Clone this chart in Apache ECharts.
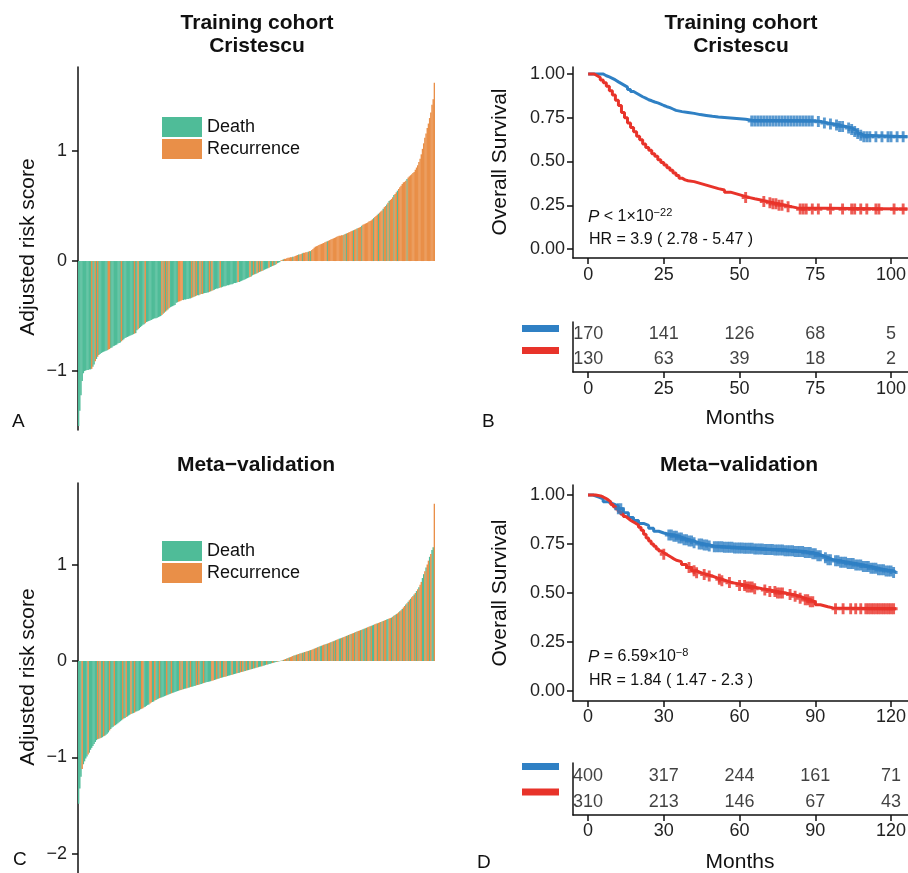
<!DOCTYPE html>
<html><head><meta charset="utf-8">
<script src="https://cdn.jsdelivr.net/npm/echarts@6/dist/echarts.min.js"></script>
<style>html,body{margin:0;padding:0;background:#fff}#c{width:908px;height:873px}</style>
</head><body><div id="c"></div>
<script>
// ---------- Panel A : Training cohort (Cristescu) adjusted risk scores, sorted ----------
const riskA = [
 -1.50,-1.36,-1.22,-1.09,-1.02,-1.00,-0.995,-0.99,-0.99,-0.985,
 -0.985,-0.98,-0.96,-0.94,-0.91,-0.89,-0.87,-0.855,-0.845,-0.835,
 -0.83,-0.825,-0.82,-0.815,-0.81,-0.805,-0.80,-0.79,-0.785,-0.775,
 -0.77,-0.765,-0.76,-0.75,-0.745,-0.74,-0.73,-0.72,-0.71,-0.70,
 -0.695,-0.69,-0.685,-0.68,-0.675,-0.67,-0.665,-0.66,-0.655,-0.63,
 -0.62,-0.61,-0.60,-0.59,-0.58,-0.575,-0.565,-0.555,-0.55,-0.545,
 -0.54,-0.535,-0.53,-0.525,-0.52,-0.52,-0.515,-0.51,-0.505,-0.50,
 -0.49,-0.48,-0.47,-0.46,-0.45,-0.44,-0.43,-0.42,-0.415,-0.41,
 -0.405,-0.40,-0.38,-0.375,-0.37,-0.365,-0.36,-0.355,-0.355,-0.35,
 -0.35,-0.345,-0.345,-0.34,-0.34,-0.335,-0.33,-0.325,-0.32,-0.315,
 -0.31,-0.31,-0.305,-0.30,-0.30,-0.295,-0.29,-0.29,-0.285,-0.285,
 -0.28,-0.275,-0.27,-0.265,-0.26,-0.255,-0.25,-0.25,-0.245,-0.24,
 -0.24,-0.235,-0.23,-0.23,-0.225,-0.22,-0.22,-0.215,-0.21,-0.21,
 -0.205,-0.20,-0.20,-0.195,-0.19,-0.19,-0.185,-0.18,-0.175,-0.17,
 -0.165,-0.16,-0.155,-0.15,-0.145,-0.14,-0.13,-0.125,-0.12,-0.115,
 -0.11,-0.105,-0.10,-0.095,-0.09,-0.085,-0.08,-0.075,-0.07,-0.065,
 -0.06,-0.055,-0.05,-0.045,-0.04,-0.035,-0.03,-0.02,-0.015,-0.01,
 0.005,0.01,0.015,0.02,0.02,0.025,0.03,0.03,0.035,0.035,
 0.04,0.04,0.045,0.05,0.055,0.06,0.06,0.065,0.07,0.075,
 0.075,0.08,0.08,0.085,0.09,0.09,0.10,0.11,0.12,0.13,
 0.135,0.14,0.145,0.15,0.155,0.16,0.165,0.17,0.175,0.18,
 0.185,0.19,0.195,0.20,0.205,0.21,0.215,0.22,0.225,0.23,
 0.23,0.235,0.235,0.24,0.245,0.25,0.255,0.26,0.265,0.27,
 0.275,0.28,0.285,0.29,0.295,0.30,0.305,0.31,0.32,0.33,
 0.335,0.34,0.345,0.35,0.36,0.365,0.37,0.38,0.39,0.40,
 0.41,0.42,0.43,0.44,0.45,0.46,0.475,0.49,0.50,0.515,
 0.53,0.545,0.555,0.565,0.58,0.60,0.61,0.625,0.64,0.655,
 0.67,0.685,0.70,0.715,0.72,0.73,0.745,0.76,0.77,0.78,
 0.79,0.80,0.81,0.83,0.85,0.87,0.90,0.93,0.97,1.02,
 1.07,1.12,1.16,1.21,1.25,1.30,1.35,1.42,1.47,1.62
];
// D = Death, R = Recurrence (one letter per bar)
const typeA = (
 "DDDDDDDDDD DRDDRDRDDD DDDDDRRDDD DDDDDDRDDD DDDDDDDRDD RDDDDDRDDD DDDDDDDDDD RDRDRDRDDD DDDDRRRRDD DDDDDRDRDR " +
 "DDRDRDDDDD RDRDDDDDDR DDDDDDDDDD DDDDRDDDDD DDDDRDDRDD RDRDRDDDDD RDDRDDRDDD RRDRRRRRRR DRRRRDRRDR RRRDRDRRRR " +
 "RRRRRRRRRD RRRRRRRRRR RRRDRDRRRR RDRRDRRRDR RRRRRRRRDR RRDRRRDRRD RDRRRDRRDR RRRRRRDRRR RRRRRRRRRR RRRRRRRRRR"
).replace(/\s/g, "");

// ---------- Panel C : Meta-validation adjusted risk scores, sorted ----------
const riskC = [
 -1.48,-1.32,-1.20,-1.12,-1.07,-1.04,-1.01,-0.99,-0.97,-0.95,
 -0.92,-0.90,-0.88,-0.86,-0.84,-0.82,-0.81,-0.805,-0.80,-0.795,
 -0.79,-0.78,-0.775,-0.765,-0.755,-0.74,-0.72,-0.705,-0.69,-0.68,
 -0.67,-0.665,-0.655,-0.645,-0.635,-0.625,-0.615,-0.605,-0.595,-0.59,
 -0.58,-0.575,-0.565,-0.557,-0.55,-0.545,-0.54,-0.535,-0.525,-0.52,
 -0.515,-0.51,-0.50,-0.495,-0.49,-0.48,-0.475,-0.465,-0.455,-0.45,
 -0.44,-0.43,-0.425,-0.42,-0.41,-0.405,-0.395,-0.39,-0.385,-0.38,
 -0.375,-0.37,-0.365,-0.36,-0.355,-0.35,-0.345,-0.34,-0.335,-0.33,
 -0.325,-0.32,-0.316,-0.312,-0.308,-0.304,-0.30,-0.296,-0.292,-0.288,
 -0.285,-0.282,-0.278,-0.274,-0.27,-0.267,-0.264,-0.26,-0.256,-0.252,
 -0.248,-0.245,-0.241,-0.237,-0.233,-0.229,-0.225,-0.221,-0.217,-0.215,
 -0.213,-0.209,-0.205,-0.201,-0.197,-0.193,-0.189,-0.185,-0.181,-0.177,
 -0.173,-0.17,-0.166,-0.163,-0.16,-0.156,-0.152,-0.149,-0.145,-0.142,
 -0.138,-0.135,-0.131,-0.128,-0.124,-0.121,-0.117,-0.113,-0.11,-0.106,
 -0.103,-0.099,-0.096,-0.092,-0.089,-0.085,-0.082,-0.078,-0.075,-0.071,
 -0.068,-0.064,-0.06,-0.057,-0.053,-0.05,-0.046,-0.042,-0.038,-0.035,
 -0.031,-0.028,-0.024,-0.021,-0.017,-0.014,-0.011,-0.008,-0.005,-0.002,
 0.002,0.006,0.011,0.016,0.021,0.026,0.031,0.036,0.041,0.046,
 0.052,0.057,0.061,0.065,0.069,0.073,0.077,0.081,0.085,0.089,
 0.093,0.097,0.101,0.105,0.109,0.113,0.118,0.123,0.128,0.133,
 0.138,0.143,0.148,0.153,0.158,0.163,0.168,0.172,0.176,0.18,
 0.185,0.19,0.195,0.2,0.205,0.21,0.215,0.22,0.225,0.23,
 0.235,0.24,0.245,0.25,0.255,0.26,0.265,0.27,0.275,0.28,
 0.285,0.29,0.295,0.3,0.305,0.31,0.315,0.32,0.325,0.33,
 0.335,0.34,0.345,0.35,0.355,0.36,0.365,0.37,0.375,0.382,
 0.386,0.39,0.395,0.40,0.405,0.41,0.415,0.42,0.425,0.43,
 0.435,0.44,0.445,0.45,0.46,0.47,0.478,0.486,0.494,0.505,
 0.515,0.525,0.54,0.555,0.57,0.585,0.60,0.615,0.63,0.645,
 0.66,0.675,0.69,0.705,0.725,0.745,0.765,0.79,0.82,0.86,
 0.90,0.93,0.97,1.00,1.04,1.08,1.11,1.15,1.18,1.63
];
const typeC = (
 "DDDRDDDDRD DDDDDDRDRD DRDDDDRDDD RDDDDDDRDD RDDDRDDRDD DDDRRDDDDD RRDDRDDDRD DDDDRDDDRD DDDDDRDRDD DRDDRDDDDR " +
 "DRDDDRDDDD DDRRDDRDDR DDRDRDDDDR DDDRDDRDRD DRDDRDDRDD RDDDRDDDRD DDDRDDDRDD DRDRRDRDRR RDRDRRDRDR DRRDRDRRDR " +
 "RDRDDRRDRD RRDRDRDRRD DRDRRDRDRD RRDRDRRDRD DRDRRDRDDR RDRRDRDRRD DRRDRDRDRR DRDRRDRDRD RRDRDRDRRD DRDRRDRDDR"
).replace(/\s/g, "");

// ---------- Panel B : Kaplan-Meier, training cohort ([months, survival]) ----------
const kmB_low = [[0,1],[4,1],[5,0.99],[6,0.983],[7,0.975],[8,0.966],[9,0.955],[10,0.945],[11,0.935],[12,0.925],
 [13,0.912],[14,0.9],[15,0.89],[16,0.88],[17,0.87],[18,0.862],[19,0.853],[20,0.847],[21,0.84],[22,0.835],
 [23,0.828],[24,0.82],[25,0.813],[26,0.808],[27,0.8],[28,0.792],[29,0.785],[31,0.78],[33,0.775],[35,0.768],
 [37,0.763],[39,0.758],[41,0.754],[43,0.75],[46,0.746],[49,0.741],[52,0.736],[54,0.732],[75,0.728],[77,0.72],
 [79,0.714],[81,0.708],[83,0.7],[85,0.692],[87,0.683],[88,0.672],[89,0.66],[90,0.65],[91,0.642],[105.5,0.642]];
const kmB_high = [[0,1],[2,0.99],[3,0.98],[4,0.966],[5,0.95],[6,0.93],[7,0.905],[8,0.88],[9,0.85],[10,0.82],
 [11,0.78],[12,0.75],[13,0.72],[14,0.695],[15,0.67],[16,0.645],[17,0.625],[18,0.6],[19,0.58],[20,0.565],
 [21,0.545],[22,0.53],[23,0.51],[24,0.495],[25,0.48],[26,0.465],[27,0.45],[28,0.435],[29,0.42],[30,0.405],
 [31,0.395],[32,0.39],[33,0.385],[35,0.375],[37,0.365],[39,0.355],[41,0.345],[43,0.337],[45,0.325],[47,0.315],
 [49,0.305],[51,0.295],[53,0.287],[55,0.28],[57,0.272],[59,0.265],[61,0.258],[63,0.25],[65,0.242],[67,0.235],
 [69,0.228],[105.5,0.228]];
const censorB_low = [54,55,56,57,58,59,60,61,62,63,64,65,66,67,68,69,70,71,72,73,74,76,78,80,82,83,84,86,87,88,89,90,91,92,93,95,97,99,100,102,104];
const censorB_high = [52,58,60,61,62,63,64,66,70,71,72,74,76,80,84,87,88,90,92,95,96,101,104];
const tableB_times = [0,25,50,75,100];
const tableB_low = [170,141,126,68,5];
const tableB_high = [130,63,39,18,2];

// ---------- Panel D : Kaplan-Meier, meta-validation ----------
const kmD_low = [[0,1],[2,0.99],[4,0.98],[6,0.965],[8,0.955],[10,0.945],[12,0.93],[14,0.91],[16,0.885],[18,0.87],
 [20,0.855],[22,0.845],[24,0.83],[26,0.815],[28,0.806],[30,0.8],[32,0.796],[34,0.79],[36,0.78],[38,0.772],
 [40,0.765],[42,0.757],[44,0.75],[46,0.745],[48,0.74],[50,0.736],[54,0.733],[58,0.73],[62,0.728],[66,0.725],
 [70,0.722],[74,0.72],[78,0.716],[82,0.712],[86,0.706],[89,0.7],[91,0.69],[93,0.68],[95,0.67],[97,0.664],
 [100,0.657],[103,0.65],[106,0.643],[109,0.635],[112,0.626],[115,0.618],[118,0.612],[121,0.605],[122,0.605]];
const kmD_high = [[0,1],[3,0.995],[5,0.99],[6,0.983],[7,0.975],[8,0.965],[9,0.952],[10,0.94],[11,0.928],[12,0.915],
 [13,0.902],[14,0.89],[15,0.88],[16,0.87],[17,0.862],[18,0.855],[19,0.847],[20,0.835],[21,0.82],[22,0.8],
 [23,0.78],[24,0.765],[25,0.75],[26,0.738],[27,0.725],[28,0.714],[29,0.705],[30,0.698],[31,0.69],[32,0.682],
 [33,0.674],[34,0.667],[35,0.66],[37,0.645],[39,0.63],[41,0.613],[43,0.603],[45,0.595],[47,0.587],[49,0.578],
 [51,0.57],[53,0.562],[55,0.553],[57,0.546],[60,0.538],[63,0.53],[66,0.522],[69,0.515],[72,0.508],[75,0.5],
 [78,0.492],[81,0.483],[84,0.473],[86,0.465],[88,0.455],[90,0.44],[92,0.43],[95,0.424],[97,0.42],[122,0.42]];
const censorD_low = [12,13,32,33,34,35,36,37,38,39,40,41,42,44,45,46,47,48,50,51,52,53,54,55,56,57,58,59,60,61,62,63,64,65,66,67,68,69,70,71,72,73,74,75,76,77,78,79,80,81,82,83,84,85,86,87,88,89,90,91,92,94,95,96,98,99,100,101,102,103,104,105,106,107,108,109,110,111,112,113,114,115,116,117,118,119,120,121];
const censorD_high = [30,40,42,43,46,48,52,53,56,60,62,63,64,65,66,70,72,74,75,76,77,80,82,84,86,87,88,89,98,101,104,106,108,110,111,112,113,114,115,116,117,118,119,120,121];
const tableD_times = [0,30,60,90,120];
const tableD_low = [400,317,244,161,71];
const tableD_high = [310,213,146,67,43];

const ticksA = [-1,0,1];
const ticksC = [-2,-1,0,1];
const ticksSurv = [0,0.25,0.5,0.75,1];
const ticksB = [0,25,50,75,100];
const ticksD = [0,30,60,90,120];

// ---------- styling ----------
const FONT = '"Liberation Sans", Arial, Helvetica, sans-serif';
const TEAL = '#4fbc98', ORANGE = '#e98f48', BLUE = '#2f80c4', RED = '#e8332a';
const INK = '#111', TICKC = '#222';
const PLUS = 'path://M-1.8,-5L1.8,-5L1.8,-1.4L5,-1.4L5,1.4L1.8,1.4L1.8,5L-1.8,5L-1.8,1.4L-5,1.4L-5,-1.4L-1.8,-1.4Z';

function stepAt(curve, t) { let s = curve[0][1]; for (const p of curve) { if (p[0] <= t) s = p[1]; else break; } return s; }
const minus = v => String(v).replace('-', '\u2212');

const axisLine = { show: true, onZero: false, lineStyle: { color: INK, width: 1.5 } };
const axisTick = (vals) => ({ show: true, length: 6, customValues: vals, lineStyle: { color: INK, width: 1.5 } });
const axisLabel = (vals, margin, fmt) => ({ show: true, customValues: vals, margin, color: TICKC, fontSize: 18, fontFamily: FONT, formatter: fmt });

const grids = [
  { left: 78, top: 67, width: 357, height: 363 },
  { left: 573, top: 67, width: 335, height: 191 },
  { left: 573, top: 322, width: 335, height: 50 },
  { left: 78, top: 483, width: 357, height: 390 },
  { left: 573, top: 485, width: 335, height: 216 },
  { left: 573, top: 763, width: 335, height: 52 }
].map(g => Object.assign({ containLabel: false, outerBoundsMode: 'none' }, g));

const xAxes = [
  { gridIndex: 0, type: 'category', data: riskA.map((v, i) => i), show: false },
  { gridIndex: 1, type: 'value', min: -5, max: 105.6, axisLine, axisTick: axisTick(ticksB), axisLabel: axisLabel(ticksB, 8), splitLine: { show: false } },
  { gridIndex: 2, type: 'value', min: -5, max: 105.6, axisLine, axisTick: axisTick(ticksB), axisLabel: axisLabel(ticksB, 8), splitLine: { show: false } },
  { gridIndex: 3, type: 'category', data: riskC.map((v, i) => i), show: false },
  { gridIndex: 4, type: 'value', min: -5.94, max: 126.7, axisLine, axisTick: axisTick(ticksD), axisLabel: axisLabel(ticksD, 7), splitLine: { show: false } },
  { gridIndex: 5, type: 'value', min: -5.94, max: 126.7, axisLine, axisTick: axisTick(ticksD), axisLabel: axisLabel(ticksD, 7), splitLine: { show: false } }
];
const yAxes = [
  { gridIndex: 0, type: 'value', min: -1.536, max: 1.764, axisLine, axisTick: axisTick(ticksA), axisLabel: axisLabel(ticksA, 11, minus), splitLine: { show: false } },
  { gridIndex: 1, type: 'value', min: -0.0514, max: 1.04, axisLine, axisTick: axisTick(ticksSurv), axisLabel: axisLabel(ticksSurv, 8, v => v.toFixed(2)), splitLine: { show: false } },
  { gridIndex: 2, type: 'category', data: ['Low', 'High'], inverse: true, axisLine, axisTick: { show: false }, axisLabel: { show: false }, splitLine: { show: false } },
  { gridIndex: 3, type: 'value', min: -2.197, max: 1.845, axisLine, axisTick: axisTick(ticksC), axisLabel: axisLabel(ticksC, 11, minus), splitLine: { show: false } },
  { gridIndex: 4, type: 'value', min: -0.051, max: 1.051, axisLine, axisTick: axisTick(ticksSurv), axisLabel: axisLabel(ticksSurv, 8, v => v.toFixed(2)), splitLine: { show: false } },
  { gridIndex: 5, type: 'category', data: ['Low', 'High'], inverse: true, axisLine, axisTick: { show: false }, axisLabel: { show: false }, splitLine: { show: false } }
];

function barSeries(vals, types, ax) {
  const common = { type: 'bar', xAxisIndex: ax, yAxisIndex: ax, barGap: '-100%', barCategoryGap: '0%', barWidth: '122%' };
  return [
    Object.assign({ name: 'Death', itemStyle: { color: TEAL }, data: vals.map((v, i) => types[i] === 'D' ? v : '-') }, common),
    Object.assign({ name: 'Recurrence', itemStyle: { color: ORANGE }, data: vals.map((v, i) => types[i] === 'D' ? '-' : v) }, common)
  ];
}
function kmSeries(curve, censor, name, color, ax) {
  return [
    { type: 'line', name, xAxisIndex: ax, yAxisIndex: ax, step: 'end', symbol: 'none', data: curve,
      lineStyle: { color, width: 3 }, itemStyle: { color }, z: 3 },
    { type: 'scatter', xAxisIndex: ax, yAxisIndex: ax, symbol: PLUS, symbolSize: [8, 11],
      itemStyle: { color }, data: censor.map(t => [t, stepAt(curve, t)]), z: 4 }
  ];
}
function tableSeries(times, counts, row, ax) {
  return { type: 'scatter', xAxisIndex: ax, yAxisIndex: ax, symbolSize: 1, itemStyle: { color: 'transparent' },
    data: times.map((t, i) => [t, row, counts[i]]),
    label: { show: true, position: 'inside', formatter: p => String(p.value[2]), color: INK, fontSize: 18, fontFamily: FONT } };
}

const series = [].concat(
  barSeries(riskA, typeA, 0),
  kmSeries(kmB_low, censorB_low, 'Low risk (training)', BLUE, 1),
  kmSeries(kmB_high, censorB_high, 'High risk (training)', RED, 1),
  [tableSeries(tableB_times, tableB_low, 0, 2), tableSeries(tableB_times, tableB_high, 1, 2)],
  barSeries(riskC, typeC, 3),
  kmSeries(kmD_low, censorD_low, 'Low risk (meta)', BLUE, 4),
  kmSeries(kmD_high, censorD_high, 'High risk (meta)', RED, 4),
  [tableSeries(tableD_times, tableD_low, 0, 5), tableSeries(tableD_times, tableD_high, 1, 5)]
);

const barLegend = top => ({ left: 157, top, orient: 'vertical', icon: 'rect', itemWidth: 40, itemHeight: 20, itemGap: 2,
  selectedMode: false, data: ['Death', 'Recurrence'], textStyle: { color: INK, fontSize: 18, fontFamily: FONT } });
const lineLegend = (name, top) => ({ left: 517, top, icon: 'rect', itemWidth: 37, itemHeight: 7, selectedMode: false,
  data: [name], formatter: () => '', textStyle: { fontSize: 1, lineHeight: 1 } });

function T(x, y, text, size, o) {
  o = o || {};
  return { type: 'text', x, y, rotation: o.rot || 0, silent: true, z: 100,
    style: { text, fill: INK, fontSize: size, fontFamily: FONT, fontWeight: o.bold ? 'bold' : 'normal',
      textAlign: o.align || 'center', textVerticalAlign: 'middle' } };
}
function RT(x, y, text) {
  const base = { fontFamily: FONT, fill: INK };
  return { type: 'text', x, y, silent: true, z: 100,
    style: { text, textAlign: 'left', textVerticalAlign: 'middle',
      rich: { i: Object.assign({ fontSize: 17, fontStyle: 'italic', lineHeight: 20 }, base),
              n: Object.assign({ fontSize: 16, lineHeight: 20 }, base),
              s: Object.assign({ fontSize: 11, lineHeight: 11, verticalAlign: 'top' }, base) } } };
}

const graphics = [
  T(257, 23, 'Training cohort', 21, { bold: true }), T(257, 46, 'Cristescu', 21, { bold: true }),
  T(741, 23, 'Training cohort', 21, { bold: true }), T(741, 46, 'Cristescu', 21, { bold: true }),
  T(256, 465, 'Meta\u2212validation', 21, { bold: true }), T(739, 465, 'Meta\u2212validation', 21, { bold: true }),
  T(28, 247, 'Adjusted risk score', 21, { rot: Math.PI / 2 }), T(28, 677, 'Adjusted risk score', 21, { rot: Math.PI / 2 }),
  T(500, 162, 'Overall Survival', 21, { rot: Math.PI / 2 }), T(500, 593, 'Overall Survival', 21, { rot: Math.PI / 2 }),
  T(740, 418, 'Months', 21), T(740, 862, 'Months', 21),
  T(12, 422, 'A', 19, { align: 'left' }), T(482, 422, 'B', 19, { align: 'left' }),
  T(13, 860, 'C', 19, { align: 'left' }), T(477, 863, 'D', 19, { align: 'left' }),
  RT(588, 217, '{i|P}{n| < 1\u00d710}{s|\u221222}'),
  RT(589, 240, '{n|HR = 3.9 ( 2.78 - 5.47 )}'),
  RT(588, 657, '{i|P}{n| = 6.59\u00d710}{s|\u22128}'),
  RT(589, 681, '{n|HR = 1.84 ( 1.47 - 2.3 )}')
];

const chart = echarts.init(document.getElementById('c'), null, { renderer: 'canvas' });
chart.setOption({
  animation: false,
  backgroundColor: '#ffffff',
  textStyle: { fontFamily: FONT },
  grid: grids, xAxis: xAxes, yAxis: yAxes, series,
  legend: [barLegend(112), barLegend(536),
    lineLegend('Low risk (training)', 320), lineLegend('High risk (training)', 342),
    lineLegend('Low risk (meta)', 758), lineLegend('High risk (meta)', 783.5)],
  graphic: { elements: graphics }
});
</script>
</body></html>
